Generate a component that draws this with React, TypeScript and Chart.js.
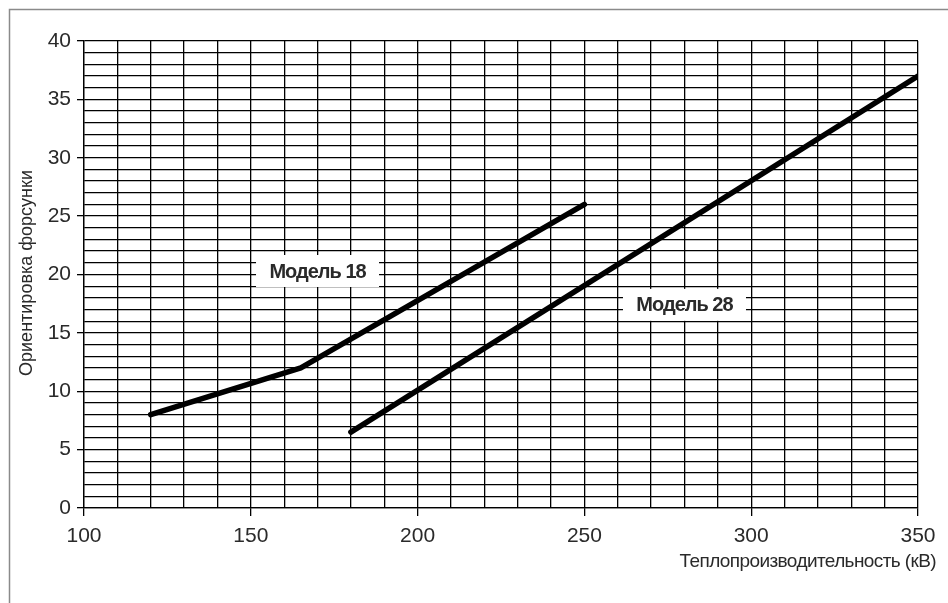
import React, { useEffect, useRef } from "react";
import { Chart, registerables } from "chart.js";

Chart.register(...registerables);

// Data
const model18X = [120, 165, 250];
const model18Y = [8, 12, 26];
const model28X = [180, 350];
const model28Y = [6.5, 37];

const seriesNames = ["Модель 18", "Модель 28"];
const labelAnchorX = [170, 280];
const labelAnchorY = [20.3, 17.4];

const xTitle = "Теплопроизводительность (кВ)";
const yTitle = "Ориентировка форсунки";

const FONT = "'Liberation Sans', Arial, sans-serif";

const decorPlugin = {
  id: "decor",
  beforeDraw(chart: any) {
    const ctx = chart.ctx;
    ctx.save();
    ctx.fillStyle = "#fff";
    ctx.fillRect(0, 0, chart.width, chart.height);
    ctx.strokeStyle = "#8a8a8a";
    ctx.lineWidth = 1.5;
    ctx.beginPath();
    ctx.moveTo(9.5, chart.height);
    ctx.lineTo(9.5, 9.5);
    ctx.lineTo(chart.width, 9.5);
    ctx.stroke();
    ctx.restore();
  },
  afterDatasetsDraw(chart: any) {
    const ctx = chart.ctx;
    const xs = chart.scales.x;
    const ys = chart.scales.y;
    ctx.save();
    ctx.font = `bold 20px ${FONT}`;
    (ctx as any).letterSpacing = "-1px";
    ctx.textAlign = "center";
    ctx.textBaseline = "middle";
    seriesNames.forEach((name, i) => {
      const cx = xs.getPixelForValue(labelAnchorX[i]);
      const cy = ys.getPixelForValue(labelAnchorY[i]);
      const w = 123;
      const h = 32;
      ctx.fillStyle = "#fff";
      ctx.fillRect(cx - w / 2, cy - h / 2, w, h);
      ctx.fillStyle = "#2a2a2a";
      ctx.fillText(name, cx, cy + 1);
    });
    ctx.restore();
  },
  afterDraw(chart: any) {
    const ctx = chart.ctx;
    const area = chart.chartArea;
    ctx.save();
    ctx.fillStyle = "#2a2a2a";
    ctx.font = `19px ${FONT}`;
    (ctx as any).letterSpacing = "-0.6px";
    ctx.textAlign = "right";
    ctx.textBaseline = "alphabetic";
    ctx.fillText(xTitle, area.right + 18, 567);
    ctx.translate(27, 273);
    ctx.rotate(-Math.PI / 2);
    ctx.textAlign = "center";
    ctx.textBaseline = "middle";
    ctx.font = `18px ${FONT}`;
    (ctx as any).letterSpacing = "0px";
    ctx.fillText(yTitle, 0, 0);
    ctx.restore();
  },
};

export default function App() {
  const ref = useRef<HTMLCanvasElement>(null);
  useEffect(() => {
    document.body.style.margin = "0";
    const canvas = ref.current!;
    const toPts = (xs: number[], ys: number[]) => xs.map((x, i) => ({ x, y: ys[i] }));
    const chart = new Chart(canvas, {
      type: "scatter",
      data: {
        datasets: [
          {
            label: seriesNames[0],
            data: toPts(model18X, model18Y),
            showLine: true,
            borderColor: "#000",
            borderWidth: 5.5,
            borderCapStyle: "round",
            borderJoinStyle: "round",
            pointRadius: 0,
          },
          {
            label: seriesNames[1],
            data: toPts(model28X, model28Y),
            showLine: true,
            borderColor: "#000",
            borderWidth: 5.5,
            borderCapStyle: "round",
            borderJoinStyle: "round",
            pointRadius: 0,
          },
        ],
      },
      options: {
        animation: false,
        responsive: false,
        layout: { padding: { left: 0, right: 30, top: 41, bottom: 0 } },
        plugins: { legend: { display: false }, tooltip: { enabled: false } },
        scales: {
          x: {
            type: "linear",
            min: 100,
            max: 350,
            afterFit: (s: any) => {
              s.height = 95;
            },
            ticks: {
              stepSize: 10,
              autoSkip: false,
              maxRotation: 0,
              padding: 8,
              color: "#2a2a2a",
              font: { size: 21, family: FONT },
              callback: (v: any) => (Number(v) % 50 === 0 ? String(v) : ""),
            },
            grid: {
              color: "#000",
              lineWidth: 1.3,
              tickLength: 8,
              tickWidth: 1.3,
              tickColor: (c: any) =>
                c.tick && c.tick.value % 50 === 0 ? "#000" : "rgba(0,0,0,0)",
            },
            border: { color: "#000", width: 1.3 },
          },
          y: {
            type: "linear",
            min: 0,
            max: 40,
            afterFit: (s: any) => {
              s.width = 84;
            },
            ticks: {
              stepSize: 1,
              autoSkip: false,
              padding: 6,
              color: "#2a2a2a",
              font: { size: 21, family: FONT },
              callback: (v: any) => (Number(v) % 5 === 0 ? String(v) : ""),
            },
            grid: {
              color: "#000",
              lineWidth: 1.3,
              tickLength: 7,
              tickWidth: 1.3,
              tickColor: (c: any) =>
                c.tick && c.tick.value % 5 === 0 ? "#000" : "rgba(0,0,0,0)",
            },
            border: { color: "#000", width: 1.3 },
          },
        },
      },
      plugins: [decorPlugin],
    } as any);
    return () => chart.destroy();
  }, []);
  return (
    <canvas
      ref={ref}
      width={948}
      height={603}
      style={{ position: "absolute", left: 0, top: 0, width: 948, height: 603 }}
    />
  );
}
